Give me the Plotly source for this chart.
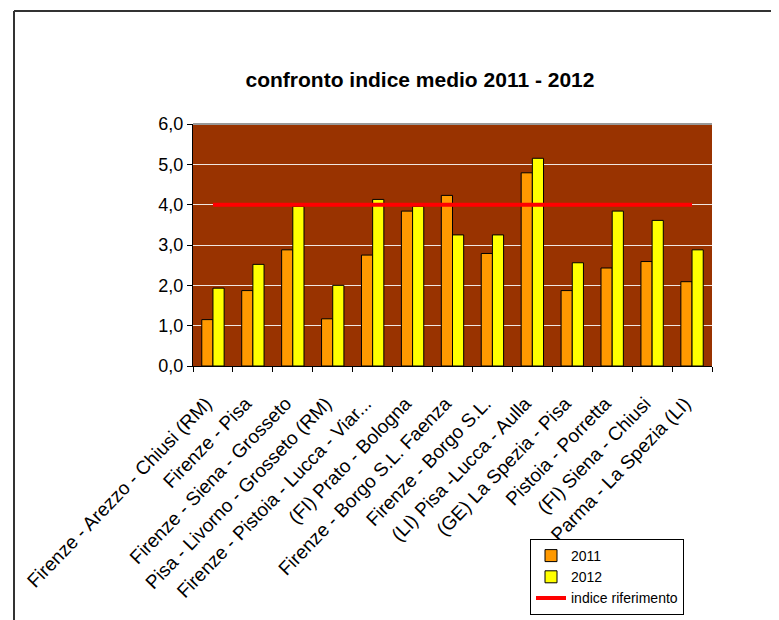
import plotly.graph_objects as go

categories = [
    "Firenze - Arezzo - Chiusi (RM)",
    "Firenze - Pisa",
    "Firenze - Siena - Grosseto",
    "Pisa - Livorno - Grosseto (RM)",
    "Firenze - Pistoia - Lucca - Viar...",
    "(FI) Prato - Bologna",
    "Firenze - Borgo S.L. Faenza",
    "Firenze - Borgo S.L.",
    "(LI) Pisa -Lucca - Aulla",
    "(GE) La Spezia - Pisa",
    "Pistoia - Porretta",
    "(FI) Siena - Chiusi",
    "Parma - La Spezia (LI)",
]
values_2011 = [1.15, 1.87, 2.88, 1.17, 2.75, 3.84, 4.23, 2.79, 4.79, 1.87, 2.43, 2.59, 2.09]
values_2012 = [1.93, 2.52, 3.96, 2.00, 4.13, 3.96, 3.25, 3.25, 5.15, 2.56, 3.84, 3.61, 2.88]
riferimento = [4.0] * len(categories)

FONT = "Liberation Sans, Arial, sans-serif"

# page offset (body margin) between figure and screen
OFF = 8
# plot area in figure pixels (screen pixels minus offset)
L, R, T, B = 193 - OFF, 712 - OFF, 124 - OFF, 366 - OFF
W, H = 779, 620
pw, ph = R - L, B - T

def px_x(p):
    return (p - OFF - L) / pw

def px_y(p):
    return (B - (p - OFF)) / ph

fig = go.Figure()
fig.add_trace(go.Bar(
    name="2011", x=categories, y=values_2011,
    marker=dict(color="#FF9900", line=dict(color="#000000", width=1)),
))
fig.add_trace(go.Bar(
    name="2012", x=categories, y=values_2012,
    marker=dict(color="#FFFF00", line=dict(color="#000000", width=1)),
))
fig.add_trace(go.Scatter(
    name="indice riferimento", x=categories, y=riferimento, mode="lines",
    line=dict(color="#FF0000", width=4),
))

fig.update_layout(
    width=W, height=H,
    margin=dict(l=L, r=W - R, t=T, b=H - B, autoexpand=False),
    paper_bgcolor="#FFFFFF",
    plot_bgcolor="#993300",
    separators=",.",
    barmode="group",
    bargap=0.44,
    bargroupgap=0,
    showlegend=True,
    title=dict(
        text="confronto indice medio 2011 - 2012",
        font=dict(family=FONT, size=21, color="#000000", weight="bold"),
        x=px_x(420), xref="paper", xanchor="center",
        y=1 - (80 - OFF) / H, yref="container", yanchor="middle",
    ),
    xaxis=dict(
        type="category", automargin=False,
        ticks="outside", ticklen=5, tickcolor="#000000", tickson="boundaries",
        showline=True, linecolor="#000000", linewidth=1,
        showgrid=False, zeroline=False,
        tickangle=-46,
        tickfont=dict(family=FONT, size=19, color="#000000"),
        ticklabelstandoff=18, ticklabelshift=-7,
    ),
    yaxis=dict(
        range=[0, 6], dtick=1, tickformat=".1f", automargin=False,
        ticks="outside", ticklen=5, tickcolor="#000000",
        showline=True, linecolor="#000000", linewidth=1,
        showgrid=True, gridcolor="#F0E6E0", gridwidth=1,
        zeroline=False,
        tickfont=dict(family=FONT, size=18, color="#000000"),
    ),
    legend=dict(
        x=px_x(530), y=px_y(539), xanchor="left", yanchor="top",
        xref="paper", yref="paper",
        bgcolor="#FFFFFF", bordercolor="#000000", borderwidth=1,
        font=dict(family=FONT, size=14, color="#000000"),
        tracegroupgap=0, itemwidth=30,
    ),
    shapes=[
        # plot area top border
        dict(type="line", xref="paper", yref="paper", x0=0, x1=1, y0=1, y1=1,
             line=dict(color="#999999", width=2)),
        # outer chart frame (top and left visible)
        dict(type="line", xref="paper", yref="paper",
             x0=px_x(14), x1=px_x(800), y0=px_y(11), y1=px_y(11),
             line=dict(color="#333333", width=2)),
        dict(type="line", xref="paper", yref="paper",
             x0=px_x(14), x1=px_x(14), y0=px_y(11), y1=px_y(640),
             line=dict(color="#333333", width=2)),
    ],
)

fig.write_html("out.html")
